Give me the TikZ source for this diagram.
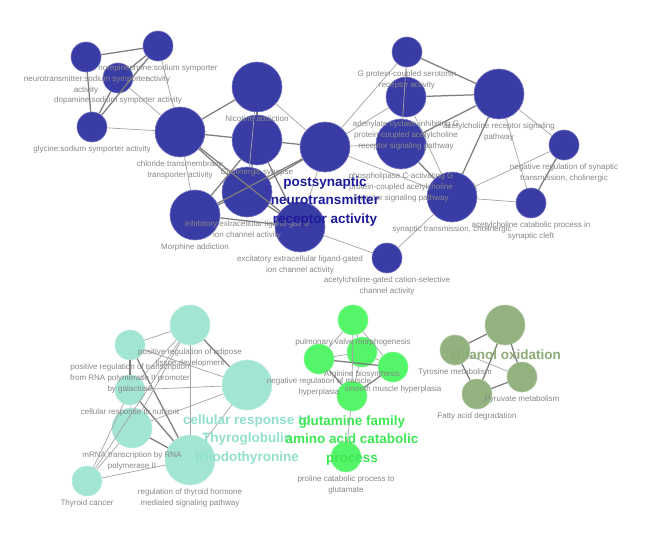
\documentclass[tikz,border=0pt]{standalone}
\usepackage{fontspec}
\setmainfont{Liberation Sans}
\usepackage{tikz}
\usetikzlibrary{arrows.meta, positioning}

\definecolor{termblue}{RGB}{58,60,165}
\definecolor{termcyan}{RGB}{162,229,211}
\definecolor{termgreen}{RGB}{84,245,104}
\definecolor{termolive}{RGB}{147,178,127}
\definecolor{lblgray}{RGB}{135,135,135}
\definecolor{edgegray}{RGB}{125,125,125}

\begin{document}
\begin{tikzpicture}[
    x=1pt, y=-1pt,
    >=Stealth,
    term/.style={circle, inner sep=0pt, draw=#1!70!white, line width=0.6pt, fill=#1},
    small/.style={minimum size=30pt},
    mid/.style={minimum size=40pt},
    big/.style={minimum size=50pt},
    lbl/.style={text=lblgray, font=\fontsize{8}{11}\selectfont, align=center, inner sep=0pt},
    grp/.style={font=\fontsize{13.5}{18.5}\selectfont\bfseries, align=center, inner sep=0pt},
    lnk/.style={edgegray, line width=1.25pt},
    thn/.style={edgegray!70, line width=0.7pt}
]

    % === CANVAS ===
    \fill[white] (0,0) rectangle (649,546);
    \useasboundingbox (0,0) rectangle (649,546);

    % === 1. TERM NODES ===
    % Cholinergic group (blue)
    \node[term=termblue, small] (ntsod)    at (86,57)   {};
    \node[term=termblue, small] (norsod)   at (158,46)  {};
    \node[term=termblue, small] (dopsod)   at (118,78)  {};
    \node[term=termblue, small] (glysod)   at (92,127)  {};
    \node[term=termblue, big]   (chlor)    at (180,132) {};
    \node[term=termblue, big]   (nicot)    at (257,87)  {};
    \node[term=termblue, big]   (cholsyn)  at (257,140) {};
    \node[term=termblue, big]   (inhib)    at (247,192) {};
    \node[term=termblue, big]   (morph)    at (195,215) {};
    \node[term=termblue, big]   (excit)    at (300,227) {};
    \node[term=termblue, big]   (postsyn)  at (325,147) {};
    \node[term=termblue, small] (achgate)  at (387,258) {};
    \node[term=termblue, big]   (syntrans) at (452,197) {};
    \node[term=termblue, small] (achcat)   at (531,203) {};
    \node[term=termblue, small] (negreg)   at (564,145) {};
    \node[term=termblue, big]   (plcach)   at (401,144) {};
    \node[term=termblue, mid]   (adcach)   at (406,97)  {};
    \node[term=termblue, big]   (achrec)   at (499,94)  {};
    \node[term=termblue, small] (serot)    at (407,52)  {};

    % Thyroid group (cyan)
    \node[term=termcyan, mid]   (adipose)  at (190,325) {};
    \node[term=termcyan, small] (galact)   at (130,345) {};
    \node[term=termcyan, small] (nutri)    at (130,390) {};
    \node[term=termcyan, big]   (thyro)    at (247,385) {};
    \node[term=termcyan, mid]   (mrna)     at (132,428) {};
    \node[term=termcyan, big]   (thyhorm)  at (190,460) {};
    \node[term=termcyan, small] (thycanc)  at (87,481)  {};

    % Glutamine group (green)
    \node[term=termgreen, small] (pulmo)   at (353,320) {};
    \node[term=termgreen, small] (muscneg) at (319,359) {};
    \node[term=termgreen, small] (argin)   at (362,352) {};
    \node[term=termgreen, small] (smooth)  at (393,367) {};
    \node[term=termgreen, small] (glutam)  at (352,396) {};
    \node[term=termgreen, small] (prolin)  at (346,457) {};

    % Ethanol group (olive)
    \node[term=termolive, mid]   (ethox)   at (505,325) {};
    \node[term=termolive, small] (tyros)   at (455,350) {};
    \node[term=termolive, small] (pyruv)   at (522,377) {};
    \node[term=termolive, small] (fatty)   at (477,394) {};

    % === 2. CONNECTIONS ===
    % strong links
    \foreach \a/\b in {ntsod/norsod, ntsod/glysod, norsod/dopsod, norsod/glysod, dopsod/glysod,
        chlor/nicot, chlor/inhib, chlor/excit, chlor/cholsyn, nicot/cholsyn, cholsyn/postsyn,
        cholsyn/inhib, cholsyn/morph, cholsyn/excit, inhib/morph, inhib/excit, morph/excit,
        inhib/postsyn, morph/postsyn, adcach/achrec, serot/achrec, plcach/achrec, achrec/syntrans,
        plcach/syntrans, achcat/negreg,
        adipose/thyro, galact/nutri, galact/thyhorm, nutri/thyhorm, mrna/thyhorm,
        muscneg/smooth, muscneg/glutam, smooth/glutam,
        ethox/tyros, ethox/fatty, ethox/pyruv, tyros/fatty, pyruv/fatty}
        \draw[lnk] (\a) -- (\b);
    % weak links
    \foreach \a/\b in {dopsod/chlor, glysod/chlor, norsod/chlor, nicot/postsyn, postsyn/plcach,
        postsyn/adcach, postsyn/serot, postsyn/syntrans, postsyn/excit, excit/achgate,
        achgate/syntrans, syntrans/achcat, serot/adcach, serot/plcach, adcach/syntrans,
        achrec/achcat, achrec/negreg, chlor/morph, nicot/inhib,
        adipose/galact, adipose/nutri, adipose/mrna, adipose/thyhorm, adipose/thycanc,
        galact/thyro, nutri/thyro, nutri/thycanc, nutri/mrna, mrna/thyro, thyhorm/thyro,
        thyhorm/thycanc, mrna/thycanc,
        pulmo/muscneg, pulmo/smooth, pulmo/argin, pulmo/glutam, muscneg/argin, argin/smooth,
        argin/glutam, glutam/prolin,
        tyros/pyruv}
        \draw[thn] (\a) -- (\b);
    % inhibiting link
    \draw[thn, -{Bar[width=7pt]}] (negreg) -- (syntrans);

    % === 3. TERM LABELS ===
    \node[lbl, below=3.5pt of ntsod]    {neurotransmitter:sodium symporter\\activity};
    \node[lbl, below=3.5pt of norsod]   {norepinephrine:sodium symporter\\activity};
    \node[lbl, below=3.5pt of dopsod]   {dopamine:sodium symporter activity};
    \node[lbl, below=3.5pt of glysod]   {glycine:sodium symporter activity};
    \node[lbl, below=3.5pt of chlor]    {chloride transmembrane\\transporter activity};
    \node[lbl, below=3.5pt of nicot]    {Nicotine addiction};
    \node[lbl, below=3.5pt of cholsyn]  {Cholinergic synapse};
    \node[lbl, below=3.5pt of inhib]    {inhibitory extracellular ligand-gated\\ion channel activity};
    \node[lbl, below=3.5pt of morph]    {Morphine addiction};
    \node[lbl, below=3.5pt of excit]    {excitatory extracellular ligand-gated\\ion channel activity};
    \node[lbl, below=3.5pt of achgate]  {acetylcholine-gated cation-selective\\channel activity};
    \node[lbl, below=3.5pt of syntrans] {synaptic transmission, cholinergic};
    \node[lbl, below=3.5pt of achcat]   {acetylcholine catabolic process in\\synaptic cleft};
    \node[lbl, below=3.5pt of negreg]   {negative regulation of synaptic\\transmission, cholinergic};
    \node[lbl, below=3.5pt of plcach]   {phospholipase C-activating G\\protein-coupled acetylcholine\\receptor signaling pathway};
    \node[lbl, below=3.5pt of adcach]   {adenylate cyclase-inhibiting G\\protein-coupled acetylcholine\\receptor signaling pathway};
    \node[lbl, below=3.5pt of achrec]   {acetylcholine receptor signaling\\pathway};
    \node[lbl, below=3.5pt of serot]    {G protein-coupled serotonin\\receptor activity};

    \node[lbl, below=3.5pt of adipose]  {positive regulation of adipose\\tissue development};
    \node[lbl, below=3.5pt of galact]   {positive regulation of transcription\\from RNA polymerase II promoter\\by galactose};
    \node[lbl, below=3.5pt of nutri]    {cellular response to nutrient};
    \node[lbl, below=3.5pt of mrna]     {mRNA transcription by RNA\\polymerase II};
    \node[lbl, below=3.5pt of thyhorm]  {regulation of thyroid hormone\\mediated signaling pathway};
    \node[lbl, below=3.5pt of thycanc]  {Thyroid cancer};

    \node[lbl, below=3.5pt of pulmo]    {pulmonary valve morphogenesis};
    \node[lbl, below=3.5pt of muscneg]  {negative regulation of muscle\\hyperplasia};
    \node[lbl, below=3.5pt of argin]    {Arginine biosynthesis};
    \node[lbl, below=3.5pt of smooth]   {smooth muscle hyperplasia};
    \node[lbl, below=3.5pt of prolin]   {proline catabolic process to\\glutamate};

    \node[lbl, below=3.5pt of tyros]    {Tyrosine metabolism};
    \node[lbl, below=3.5pt of pyruv]    {Pyruvate metabolism};
    \node[lbl, below=3.5pt of fatty]    {Fatty acid degradation};

    % === 4. GROUP LABELS ===
    \node[grp, text={rgb,255:red,28;green,28;blue,155}, below=4pt of postsyn]
        {postsynaptic\\neurotransmitter\\receptor activity};
    \node[grp, text={rgb,255:red,145;green,224;blue,203}, below=4pt of thyro]
        {cellular response to\\Thyroglobulin\\triiodothyronine};
    \node[grp, text={rgb,255:red,62;green,232;blue,84}, below=4pt of glutam]
        {glutamine family\\amino acid catabolic\\process};
    \node[grp, text={rgb,255:red,140;green,172;blue,120}, below=4pt of ethox]
        {ethanol oxidation};

\end{tikzpicture}
\end{document}
